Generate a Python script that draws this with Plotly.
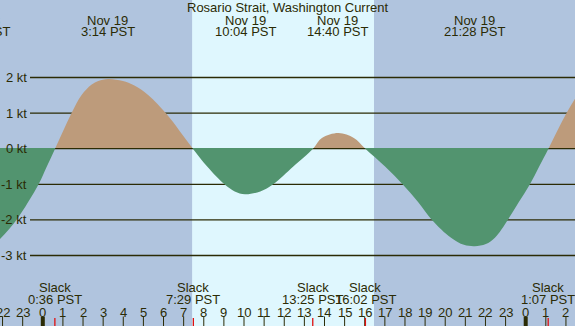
import plotly.graph_objects as go

W, H = 575, 326
TITLE = "Rosario Strait, Washington Current"

# Current speed (knots), hours since midnight Nov 19 (PST)
hours = [-2.13, -1.31, -0.21, 0.20, 0.61, 1.01, 1.43, 1.92, 2.43, 2.76, 3.25, 3.98, 4.53, 5.25,
         6.11, 6.80, 7.46, 8.17, 9.03, 9.54, 10.05, 10.81, 11.45, 12.45, 13.43, 13.87, 14.70,
         15.46, 16.03, 17.01, 17.88, 18.65, 19.34, 20.29, 20.93, 21.47, 22.02, 22.47, 23.11,
         23.66, 24.21, 24.67, 25.13, 26.03, 26.45]
knots = [-2.54, -2.0, -1.0, -0.5, 0.0, 0.5, 1.0, 1.5, 1.8, 1.9, 1.96, 1.9, 1.78, 1.5,
         1.0, 0.5, 0.0, -0.5, -1.0, -1.2, -1.28, -1.2, -1.0, -0.5, 0.0, 0.3, 0.44,
         0.3, 0.0, -0.5, -1.0, -1.5, -2.0, -2.5, -2.7, -2.74, -2.68, -2.5, -2.0,
         -1.5, -1.0, -0.5, 0.0, 1.0, 1.40]

# Max current events (top labels)
max_times = [-3.15, 3.233, 10.067, 14.667, 21.467]
max_dates = ["Nov 18", "Nov 19", "Nov 19", "Nov 19", "Nov 19"]
max_labels = ["20:51 PST", "3:14 PST", "10:04 PST", "14:40 PST", "21:28 PST"]

# Slack events (bottom labels)
slack_times = [0.600, 7.483, 13.417, 16.033, 25.117]
slack_labels = ["0:36 PST", "7:29 PST", "13:25 PST", "16:02 PST", "1:07 PST"]

# Daylight span (sunrise, sunset)
daylight = [7.42, 16.46]

hour_ticks = list(range(-2, 27))
hour_tick_labels = [str(h % 24) for h in hour_ticks]

grid_kt = [2, 1, 0, -1, -2, -3]
grid_labels = ["2 kt", "1 kt", "0 kt", "-1 kt", "-2 kt", "-3 kt"]

X_RANGE = [-2.127, 26.45]
Y_RANGE = [-4.98, 4.177]

NIGHT = "#b0c4de"
DAY = "#dff7fe"
FLOOD = "#bd9b7b"
EBB = "#52946f"
INK = "#2b2b05"
RED = "#e01010"
FONT = "Liberation Sans, Arial, sans-serif"
GRID_W = 1.3


def py(p):
    return 1 - p / H


def px(p):
    return p / W


def hx(h):
    # hour -> paper x (so labels of events outside the range are still drawn, clipped by page)
    return (h - X_RANGE[0]) / (X_RANGE[1] - X_RANGE[0])


# split flood (above) / ebb (below) at the top edge of the zero grid line
kt_px = H / (Y_RANGE[1] - Y_RANGE[0])
eps = (GRID_W / 2) / kt_px
split = (0 + eps - Y_RANGE[0]) / (Y_RANGE[1] - Y_RANGE[0])

fig = go.Figure()

# flood fill (clipped to upper domain)
fig.add_trace(go.Scatter(
    x=hours, y=knots, mode="lines", fill="tozeroy", fillcolor=FLOOD,
    line=dict(width=0, shape="spline", smoothing=1.0, color=FLOOD),
    xaxis="x", yaxis="y2", hoverinfo="skip", showlegend=False))
# ebb fill (clipped to lower domain)
fig.add_trace(go.Scatter(
    x=X_RANGE, y=[eps, eps], mode="lines", line=dict(width=0, color=EBB),
    xaxis="x", yaxis="y3", hoverinfo="skip", showlegend=False))
fig.add_trace(go.Scatter(
    x=hours, y=knots, mode="lines", fill="tonexty", fillcolor=EBB,
    line=dict(width=0, shape="spline", smoothing=1.0, color=EBB),
    xaxis="x", yaxis="y3", hoverinfo="skip", showlegend=False))

shapes = []
# daylight band
shapes.append(dict(type="rect", xref="x", yref="paper", x0=daylight[0], x1=daylight[1],
                   y0=0, y1=1, fillcolor=DAY, line=dict(width=0), layer="below"))
# grid lines
for g in grid_kt:
    shapes.append(dict(type="line", xref="paper", yref="y", x0=px(30), x1=1, y0=g, y1=g,
                       line=dict(color=INK, width=GRID_W), layer="below"))
# hour ticks
for h in hour_ticks:
    midnight = (h % 24 == 0)
    shapes.append(dict(type="line", xref="x", yref="paper", x0=h, x1=h, y0=py(326), y1=py(316.5),
                       line=dict(color=INK, width=4 if midnight else 1), layer="above"))
# slack ticks
for t in slack_times:
    shapes.append(dict(type="line", xref="x", yref="paper", x0=t, x1=t, y0=py(326), y1=py(318),
                       line=dict(color=RED, width=1.3), layer="above"))

annotations = []
tf = dict(family=FONT, size=13, color=INK)


def ann(x, y, text):
    annotations.append(dict(x=x, y=y, xref="paper", yref="paper", text=text, showarrow=False,
                            font=tf, xanchor="center", yanchor="middle"))


ann(0.5, py(7.5), TITLE)
for t, d, lab in zip(max_times, max_dates, max_labels):
    ann(hx(t), py(20.5), d)
    ann(hx(t), py(32), lab)
for t, lab in zip(slack_times, slack_labels):
    ann(hx(t), py(287.5), "Slack")
    ann(hx(t), py(299.5), lab)
for h, lab in zip(hour_ticks, hour_tick_labels):
    ann(hx(h), py(312), lab)
for g, lab in zip(grid_kt, grid_labels):
    annotations.append(dict(x=px(28.5), y=g, xref="paper", yref="y", text=lab, showarrow=False,
                            font=tf, xanchor="right", yanchor="middle"))

fig.update_layout(
    width=W, height=H,
    margin=dict(l=0, r=0, t=0, b=0, pad=0),
    paper_bgcolor=NIGHT, plot_bgcolor="rgba(0,0,0,0)",
    xaxis=dict(range=X_RANGE, visible=False, fixedrange=True, anchor="y"),
    yaxis=dict(range=Y_RANGE, visible=False, fixedrange=True, domain=[0, 1]),
    yaxis2=dict(range=[eps, Y_RANGE[1]], visible=False, fixedrange=True,
                domain=[split, 1], anchor="x"),
    yaxis3=dict(range=[Y_RANGE[0], eps], visible=False, fixedrange=True,
                domain=[0, split], anchor="x"),
    shapes=shapes, annotations=annotations, showlegend=False,
)

fig.write_html("out.html", config={"displayModeBar": False},
               post_script="document.body.style.margin='0px';document.body.style.overflow='hidden';")
